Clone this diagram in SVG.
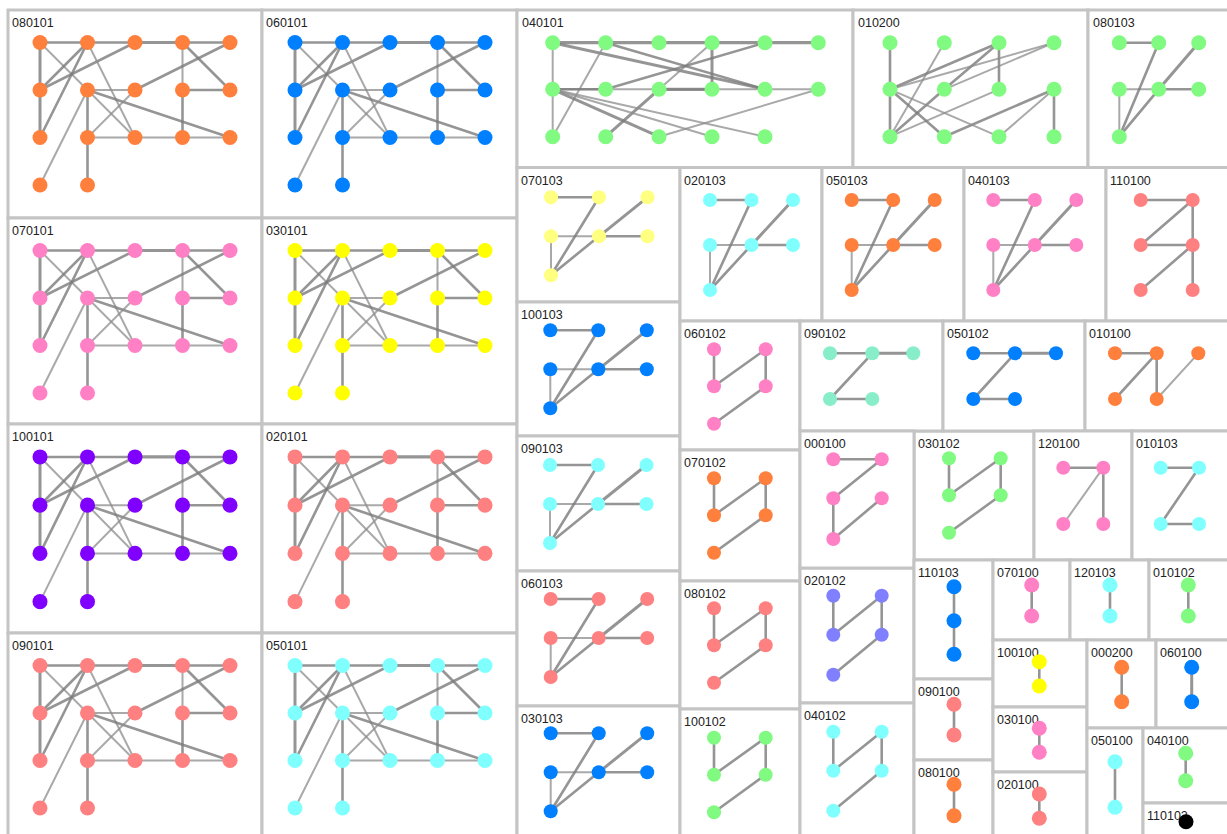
<svg xmlns="http://www.w3.org/2000/svg" xmlns:xlink="http://www.w3.org/1999/xlink" width="1227" height="834" viewBox="0 0 1227 834">
<style>
.pn{fill:#fff;stroke:#c4c4c4;stroke-width:3}
.lb{font-family:"Liberation Sans",Arial,sans-serif;font-size:12.5px;fill:#222}
.e{stroke:#7a7a7a;stroke-width:2.6;stroke-opacity:.8;stroke-linecap:round}
.f{stroke:#8c8c8c;stroke-width:2;stroke-opacity:.75;stroke-linecap:round}
.or{fill:#ff7f3c}.bl{fill:#0080ff}.gr{fill:#80fa80}.pk{fill:#ff80c4}.ye{fill:#ffff00}.ly{fill:#ffff80}
.pu{fill:#8000ff}.sa{fill:#ff8080}.cy{fill:#80ffff}.mi{fill:#88eeca}.la{fill:#8080ff}.bk{fill:#000}
</style>
<defs>
<g id="gA">
<g class="links">
<line class="e" x1="32" y1="32.5" x2="79.5" y2="32.5"/>
<line class="e" x1="79.5" y1="32.5" x2="127" y2="32.5"/>
<line class="e" x1="127" y1="32.5" x2="174.5" y2="32.5" style="stroke-width:3.2"/>
<line class="e" x1="174.5" y1="32.5" x2="222" y2="32.5"/>
<line class="e" x1="32" y1="32.5" x2="32" y2="80" style="stroke-width:3"/>
<line class="e" x1="32" y1="80" x2="32" y2="127.5" style="stroke-width:3"/>
<line class="f" x1="32" y1="32.5" x2="79.5" y2="80"/>
<line class="f" x1="79.5" y1="80" x2="127" y2="127.5"/>
<line class="e" x1="79.5" y1="32.5" x2="32" y2="80"/>
<line class="e" x1="79.5" y1="32.5" x2="32" y2="127.5"/>
<line class="e" x1="127" y1="32.5" x2="32" y2="80"/>
<line class="f" x1="79.5" y1="32.5" x2="127" y2="127.5"/>
<line class="f" x1="174.5" y1="32.5" x2="174.5" y2="80"/>
<line class="e" x1="174.5" y1="80" x2="174.5" y2="127.5"/>
<line class="e" x1="174.5" y1="32.5" x2="222" y2="80"/>
<line class="e" x1="222" y1="32.5" x2="127" y2="80"/>
<line class="e" x1="174.5" y1="80" x2="222" y2="80"/>
<line class="f" x1="79.5" y1="80" x2="127" y2="80"/>
<line class="e" x1="79.5" y1="80" x2="79.5" y2="127.5"/>
<line class="e" x1="79.5" y1="127.5" x2="79.5" y2="175"/>
<line class="f" x1="79.5" y1="80" x2="32" y2="175"/>
<line class="e" x1="79.5" y1="80" x2="222" y2="127.5"/>
<line class="f" x1="127" y1="80" x2="79.5" y2="127.5"/>
<line class="f" x1="79.5" y1="127.5" x2="127" y2="127.5"/>
<line class="f" x1="127" y1="127.5" x2="174.5" y2="127.5"/>
<line class="f" x1="174.5" y1="127.5" x2="222" y2="127.5"/>
</g>
<g class="nodes">
<circle cx="32" cy="32.5" r="7.5"/><circle cx="79.5" cy="32.5" r="7.5"/><circle cx="127" cy="32.5" r="7.5"/><circle cx="174.5" cy="32.5" r="7.5"/><circle cx="222" cy="32.5" r="7.5"/>
<circle cx="32" cy="80" r="7.5"/><circle cx="79.5" cy="80" r="7.5"/><circle cx="127" cy="80" r="7.5"/><circle cx="174.5" cy="80" r="7.5"/><circle cx="222" cy="80" r="7.5"/>
<circle cx="32" cy="127.5" r="7.5"/><circle cx="79.5" cy="127.5" r="7.5"/><circle cx="127" cy="127.5" r="7.5"/><circle cx="174.5" cy="127.5" r="7.5"/><circle cx="222" cy="127.5" r="7.5"/>
<circle cx="32" cy="175" r="7.5"/><circle cx="79.5" cy="175" r="7.5"/>
</g>
</g>
<g id="gZ1">
<g class="links">
<line class="e" x1="0" y1="0" x2="48" y2="0"/>
<line class="f" x1="0" y1="39" x2="48" y2="39"/>
<line class="e" x1="48" y1="39" x2="96.5" y2="39"/>
<line class="f" x1="0" y1="39" x2="0" y2="78"/>
<line class="e" x1="48" y1="0" x2="0" y2="78"/>
<line class="e" x1="0" y1="78" x2="48" y2="39"/>
<line class="e" x1="48" y1="39" x2="96.5" y2="0" style="stroke-width:3"/>
</g>
<g class="nodes">
<circle cx="0" cy="0" r="7"/><circle cx="48" cy="0" r="7"/><circle cx="96.5" cy="0" r="7"/>
<circle cx="0" cy="39" r="7"/><circle cx="48" cy="39" r="7"/><circle cx="96.5" cy="39" r="7"/>
<circle cx="0" cy="78" r="7"/>
</g>
</g>
<g id="gZ2">
<g class="links">
<line class="e" x1="0" y1="0" x2="41.5" y2="0"/>
<line class="f" x1="0" y1="45" x2="41.5" y2="45"/>
<line class="e" x1="41.5" y1="45" x2="83" y2="45"/>
<line class="f" x1="0" y1="45" x2="0" y2="90"/>
<line class="e" x1="41.5" y1="0" x2="0" y2="90"/>
<line class="e" x1="0" y1="90" x2="41.5" y2="45"/>
<line class="e" x1="41.5" y1="45" x2="83" y2="0" style="stroke-width:3"/>
</g>
<g class="nodes">
<circle cx="0" cy="0" r="7"/><circle cx="41.5" cy="0" r="7"/><circle cx="83" cy="0" r="7"/>
<circle cx="0" cy="45" r="7"/><circle cx="41.5" cy="45" r="7"/><circle cx="83" cy="45" r="7"/>
<circle cx="0" cy="90" r="7"/>
</g>
</g>
<g id="gS1">
<g class="links">
<line class="e" x1="0" y1="0" x2="0" y2="37"/>
<line class="e" x1="0" y1="37" x2="51.7" y2="0"/>
<line class="e" x1="51.7" y1="0" x2="51.7" y2="37"/>
<line class="e" x1="51.7" y1="37" x2="0" y2="74.5"/>
</g>
<g class="nodes">
<circle cx="0" cy="0" r="7"/><circle cx="51.7" cy="0" r="7"/><circle cx="0" cy="37" r="7"/><circle cx="51.7" cy="37" r="7"/><circle cx="0" cy="74.5" r="7"/>
</g>
</g>
<g id="gS2">
<g class="links">
<line class="e" x1="0" y1="0" x2="0" y2="39"/>
<line class="e" x1="0" y1="39" x2="48.4" y2="0"/>
<line class="e" x1="48.4" y1="0" x2="48.4" y2="39"/>
<line class="e" x1="48.4" y1="39" x2="0" y2="79"/>
</g>
<g class="nodes">
<circle cx="0" cy="0" r="7"/><circle cx="48.4" cy="0" r="7"/><circle cx="0" cy="39" r="7"/><circle cx="48.4" cy="39" r="7"/><circle cx="0" cy="79" r="7"/>
</g>
</g>
</defs>
<rect width="1227" height="834" fill="#fff"/>

<!-- big 17-node panels -->
<g id="p080101"><rect class="pn" x="8" y="10" width="254" height="208"/><text class="lb" x="12" y="27">080101</text><use xlink:href="#gA" class="or" transform="translate(8,10)"/></g>
<g id="p060101"><rect class="pn" x="262" y="10" width="255" height="208"/><text class="lb" x="266" y="27">060101</text><use xlink:href="#gA" class="bl" transform="translate(263,10)"/></g>
<g id="p070101"><rect class="pn" x="8" y="218" width="254" height="206"/><text class="lb" x="12" y="235">070101</text><use xlink:href="#gA" class="pk" transform="translate(8,218)"/></g>
<g id="p030101"><rect class="pn" x="262" y="218" width="255" height="206"/><text class="lb" x="266" y="235">030101</text><use xlink:href="#gA" class="ye" transform="translate(263,218)"/></g>
<g id="p100101"><rect class="pn" x="8" y="424" width="254" height="209"/><text class="lb" x="12" y="441">100101</text><use xlink:href="#gA" class="pu" transform="translate(8,424) scale(1,1.015)"/></g>
<g id="p020101"><rect class="pn" x="262" y="424" width="255" height="209"/><text class="lb" x="266" y="441">020101</text><use xlink:href="#gA" class="sa" transform="translate(263,424) scale(1,1.015)"/></g>
<g id="p090101"><rect class="pn" x="8" y="633" width="254" height="210"/><text class="lb" x="12" y="650">090101</text><use xlink:href="#gA" class="sa" transform="translate(8,633)"/></g>
<g id="p050101"><rect class="pn" x="262" y="633" width="255" height="210"/><text class="lb" x="266" y="650">050101</text><use xlink:href="#gA" class="cy" transform="translate(263,633)"/></g>

<!-- 040101 -->
<g id="p040101"><rect class="pn" x="517" y="10" width="336" height="157.5"/><text class="lb" x="522" y="27">040101</text>
<g class="links">
<line class="e" x1="552.7" y1="42.7" x2="818.3" y2="42.7" style="stroke-width:3.2"/>
<line class="f" x1="552.7" y1="42.7" x2="552.7" y2="136.7"/>
<line class="e" x1="552.7" y1="42.7" x2="765" y2="89.3" style="stroke-width:3"/>
<line class="e" x1="605.7" y1="42.7" x2="765" y2="89.3"/>
<line class="f" x1="605.7" y1="42.7" x2="552.7" y2="136.7"/>
<line class="e" x1="712" y1="42.7" x2="712" y2="89.3" style="stroke-width:3"/>
<line class="f" x1="712" y1="42.7" x2="659" y2="89.3"/>
<line class="e" x1="659" y1="89.3" x2="605.7" y2="136.7" style="stroke-width:3"/>
<line class="e" x1="765" y1="42.7" x2="605.7" y2="89.3"/>
<line class="f" x1="552.7" y1="89.3" x2="818.3" y2="89.3"/>
<line class="e" x1="659" y1="89.3" x2="712" y2="89.3" style="stroke-width:3.2"/>
<line class="e" x1="552.7" y1="89.3" x2="605.7" y2="89.3"/>
<line class="f" x1="818.3" y1="89.3" x2="659" y2="136.7"/>
<line class="e" x1="552.7" y1="89.3" x2="659" y2="136.7" style="stroke-width:3"/>
<line class="f" x1="552.7" y1="89.3" x2="712" y2="136.7"/>
<line class="f" x1="552.7" y1="89.3" x2="765" y2="136.7"/>
</g>
<g class="nodes gr">
<circle cx="552.7" cy="42.7" r="7.5"/><circle cx="605.7" cy="42.7" r="7.5"/><circle cx="659" cy="42.7" r="7.5"/><circle cx="712" cy="42.7" r="7.5"/><circle cx="765" cy="42.7" r="7.5"/><circle cx="818.3" cy="42.7" r="7.5"/>
<circle cx="552.7" cy="89.3" r="7.5"/><circle cx="605.7" cy="89.3" r="7.5"/><circle cx="659" cy="89.3" r="7.5"/><circle cx="712" cy="89.3" r="7.5"/><circle cx="765" cy="89.3" r="7.5"/><circle cx="818.3" cy="89.3" r="7.5"/>
<circle cx="552.7" cy="136.7" r="7.5"/><circle cx="605.7" cy="136.7" r="7.5"/><circle cx="659" cy="136.7" r="7.5"/><circle cx="712" cy="136.7" r="7.5"/><circle cx="765" cy="136.7" r="7.5"/>
</g></g>

<!-- 010200 -->
<g id="p010200"><rect class="pn" x="853" y="10" width="235" height="157.5"/><text class="lb" x="858" y="27">010200</text>
<g class="links">
<line class="e" x1="890" y1="42.7" x2="890" y2="89.3"/>
<line class="e" x1="890" y1="89.3" x2="890" y2="136.7"/>
<line class="e" x1="999" y1="42.7" x2="999" y2="89.3"/>
<line class="e" x1="1054" y1="89.3" x2="1054" y2="136.7"/>
<line class="f" x1="944.3" y1="42.7" x2="890" y2="136.7"/>
<line class="e" x1="999" y1="42.7" x2="890" y2="89.3"/>
<line class="e" x1="999" y1="42.7" x2="944.3" y2="89.3"/>
<line class="f" x1="1054" y1="42.7" x2="890" y2="89.3"/>
<line class="f" x1="1054" y1="42.7" x2="944.3" y2="89.3"/>
<line class="e" x1="944.3" y1="89.3" x2="890" y2="136.7"/>
<line class="f" x1="999" y1="89.3" x2="890" y2="136.7"/>
<line class="e" x1="1054" y1="89.3" x2="944.3" y2="136.7"/>
<line class="f" x1="1054" y1="89.3" x2="999" y2="136.7"/>
<line class="e" x1="890" y1="89.3" x2="944.3" y2="136.7"/>
<line class="f" x1="890" y1="89.3" x2="999" y2="136.7"/>
</g>
<g class="nodes gr">
<circle cx="890" cy="42.7" r="7.5"/><circle cx="944.3" cy="42.7" r="7.5"/><circle cx="999" cy="42.7" r="7.5"/><circle cx="1054" cy="42.7" r="7.5"/>
<circle cx="890" cy="89.3" r="7.5"/><circle cx="944.3" cy="89.3" r="7.5"/><circle cx="999" cy="89.3" r="7.5"/><circle cx="1054" cy="89.3" r="7.5"/>
<circle cx="890" cy="136.7" r="7.5"/><circle cx="944.3" cy="136.7" r="7.5"/><circle cx="999" cy="136.7" r="7.5"/><circle cx="1054" cy="136.7" r="7.5"/>
</g></g>

<!-- 080103 -->
<g id="p080103"><rect class="pn" x="1088" y="10" width="145" height="157.5"/><text class="lb" x="1093" y="27">080103</text>
<g class="links">
<line class="e" x1="1119.3" y1="42.7" x2="1158.7" y2="42.7"/>
<line class="f" x1="1119.3" y1="89.3" x2="1158.7" y2="89.3"/>
<line class="e" x1="1158.7" y1="89.3" x2="1198.7" y2="89.3"/>
<line class="f" x1="1119.3" y1="89.3" x2="1119.3" y2="136.7"/>
<line class="e" x1="1158.7" y1="42.7" x2="1119.3" y2="136.7"/>
<line class="e" x1="1119.3" y1="136.7" x2="1158.7" y2="89.3"/>
<line class="e" x1="1158.7" y1="89.3" x2="1198.7" y2="42.7" style="stroke-width:3"/>
</g>
<g class="nodes gr">
<circle cx="1119.3" cy="42.7" r="7.5"/><circle cx="1158.7" cy="42.7" r="7.5"/><circle cx="1198.7" cy="42.7" r="7.5"/>
<circle cx="1119.3" cy="89.3" r="7.5"/><circle cx="1158.7" cy="89.3" r="7.5"/><circle cx="1198.7" cy="89.3" r="7.5"/>
<circle cx="1119.3" cy="136.7" r="7.5"/>
</g></g>

<!-- Z panels -->
<g id="p070103"><rect class="pn" x="517" y="167.5" width="163" height="134.5"/><text class="lb" x="521" y="185">070103</text><use xlink:href="#gZ1" class="ly" transform="translate(551,197.3)"/></g>
<g id="p100103"><rect class="pn" x="517" y="302" width="163" height="134"/><text class="lb" x="521" y="319">100103</text><use xlink:href="#gZ1" class="bl" transform="translate(550.3,330.3)"/></g>
<g id="p090103"><rect class="pn" x="517" y="436" width="163" height="135"/><text class="lb" x="521" y="453">090103</text><use xlink:href="#gZ1" class="cy" transform="translate(550,465)"/></g>
<g id="p060103"><rect class="pn" x="517" y="571" width="163" height="135"/><text class="lb" x="521" y="588">060103</text><use xlink:href="#gZ1" class="sa" transform="translate(550.7,599)"/></g>
<g id="p030103"><rect class="pn" x="517" y="706" width="163" height="140"/><text class="lb" x="521" y="723">030103</text><use xlink:href="#gZ1" class="bl" transform="translate(550.7,733.3)"/></g>
<g id="p020103"><rect class="pn" x="680" y="167.5" width="142" height="153.5"/><text class="lb" x="684" y="185">020103</text><use xlink:href="#gZ2" class="cy" transform="translate(710,200)"/></g>
<g id="p050103"><rect class="pn" x="822" y="167.5" width="142" height="153.5"/><text class="lb" x="826" y="185">050103</text><use xlink:href="#gZ2" class="or" transform="translate(851.7,200)"/></g>
<g id="p040103"><rect class="pn" x="964" y="167.5" width="142" height="153.5"/><text class="lb" x="968" y="185">040103</text><use xlink:href="#gZ2" class="pk" transform="translate(993.3,200)"/></g>

<!-- 110100 -->
<g id="p110100"><rect class="pn" x="1106" y="167.5" width="127" height="153.5"/><text class="lb" x="1110" y="185">110100</text>
<g class="links">
<line class="e" x1="1140.7" y1="200" x2="1192.7" y2="200"/>
<line class="e" x1="1192.7" y1="200" x2="1140.7" y2="245"/>
<line class="e" x1="1192.7" y1="200" x2="1192.7" y2="245"/>
<line class="e" x1="1140.7" y1="245" x2="1192.7" y2="245"/>
<line class="e" x1="1192.7" y1="245" x2="1140.7" y2="290"/>
<line class="e" x1="1192.7" y1="245" x2="1192.7" y2="290"/>
</g>
<g class="nodes sa">
<circle cx="1140.7" cy="200" r="7"/><circle cx="1192.7" cy="200" r="7"/><circle cx="1140.7" cy="245" r="7"/><circle cx="1192.7" cy="245" r="7"/><circle cx="1140.7" cy="290" r="7"/><circle cx="1192.7" cy="290" r="7"/>
</g></g>

<!-- S panels -->
<g id="p060102"><rect class="pn" x="680" y="321" width="120" height="129"/><text class="lb" x="684" y="338">060102</text><use xlink:href="#gS1" class="pk" transform="translate(714,349.3)"/></g>
<g id="p070102"><rect class="pn" x="680" y="450" width="120" height="131"/><text class="lb" x="684" y="467">070102</text><use xlink:href="#gS1" class="or" transform="translate(714,478.3)"/></g>
<g id="p080102"><rect class="pn" x="680" y="581" width="120" height="128"/><text class="lb" x="684" y="598">080102</text><use xlink:href="#gS1" class="sa" transform="translate(714,608.3)"/></g>
<g id="p100102"><rect class="pn" x="680" y="709" width="120" height="140"/><text class="lb" x="684" y="726">100102</text><use xlink:href="#gS1" class="gr" transform="translate(714,737.7)"/></g>
<g id="p030102"><rect class="pn" x="914" y="431" width="120" height="129"/><text class="lb" x="918" y="448">030102</text><use xlink:href="#gS1" class="gr" transform="translate(949,458.3)"/></g>
<g id="p020102"><rect class="pn" x="800" y="568" width="114" height="135"/><text class="lb" x="804" y="585">020102</text><use xlink:href="#gS2" class="la" transform="translate(833.3,595.7)"/></g>
<g id="p040102"><rect class="pn" x="800" y="703" width="114" height="146"/><text class="lb" x="804" y="720">040102</text><use xlink:href="#gS2" class="cy" transform="translate(833.3,731.7)"/></g>

<!-- 090102 -->
<g id="p090102"><rect class="pn" x="800" y="321" width="143" height="110"/><text class="lb" x="804" y="338">090102</text>
<g class="links">
<line class="e" x1="830" y1="353.3" x2="872.3" y2="353.3"/>
<line class="e" x1="872.3" y1="353.3" x2="913.3" y2="353.3" style="stroke-width:3"/>
<line class="e" x1="872.3" y1="353.3" x2="830" y2="399"/>
<line class="e" x1="830" y1="399" x2="872.3" y2="399"/>
</g>
<g class="nodes mi">
<circle cx="830" cy="353.3" r="7"/><circle cx="872.3" cy="353.3" r="7"/><circle cx="913.3" cy="353.3" r="7"/><circle cx="830" cy="399" r="7"/><circle cx="872.3" cy="399" r="7"/>
</g></g>

<!-- 050102 -->
<g id="p050102"><rect class="pn" x="943" y="321" width="142" height="110"/><text class="lb" x="947" y="338">050102</text>
<g class="links">
<line class="e" x1="973.3" y1="353.3" x2="1015" y2="353.3"/>
<line class="e" x1="1015" y1="353.3" x2="1056" y2="353.3" style="stroke-width:3"/>
<line class="e" x1="1015" y1="353.3" x2="973.3" y2="399"/>
<line class="e" x1="973.3" y1="399" x2="1015" y2="399"/>
</g>
<g class="nodes bl">
<circle cx="973.3" cy="353.3" r="7"/><circle cx="1015" cy="353.3" r="7"/><circle cx="1056" cy="353.3" r="7"/><circle cx="973.3" cy="399" r="7"/><circle cx="1015" cy="399" r="7"/>
</g></g>

<!-- 010100 -->
<g id="p010100"><rect class="pn" x="1085" y="321" width="148" height="110"/><text class="lb" x="1089" y="338">010100</text>
<g class="links">
<line class="e" x1="1115" y1="353.3" x2="1156.7" y2="353.3"/>
<line class="e" x1="1156.7" y1="353.3" x2="1115" y2="399"/>
<line class="e" x1="1156.7" y1="353.3" x2="1156.7" y2="399"/>
<line class="f" x1="1156.7" y1="399" x2="1198.3" y2="353.3"/>
</g>
<g class="nodes or">
<circle cx="1115" cy="353.3" r="7"/><circle cx="1156.7" cy="353.3" r="7"/><circle cx="1198.3" cy="353.3" r="7"/><circle cx="1115" cy="399" r="7"/><circle cx="1156.7" cy="399" r="7"/>
</g></g>

<!-- 000100 -->
<g id="p000100"><rect class="pn" x="800" y="431" width="114" height="137"/><text class="lb" x="804" y="448">000100</text>
<g class="links">
<line class="e" x1="833.3" y1="459.3" x2="881.7" y2="459.3"/>
<line class="e" x1="881.7" y1="459.3" x2="833.3" y2="498.3"/>
<line class="e" x1="833.3" y1="498.3" x2="833.3" y2="539"/>
<line class="e" x1="833.3" y1="539" x2="881.7" y2="498.3"/>
</g>
<g class="nodes pk">
<circle cx="833.3" cy="459.3" r="7"/><circle cx="881.7" cy="459.3" r="7"/><circle cx="833.3" cy="498.3" r="7"/><circle cx="881.7" cy="498.3" r="7"/><circle cx="833.3" cy="539" r="7"/>
</g></g>

<!-- 120100 -->
<g id="p120100"><rect class="pn" x="1034" y="431" width="98" height="129"/><text class="lb" x="1038" y="448">120100</text>
<g class="links">
<line class="e" x1="1063.3" y1="467.7" x2="1103.3" y2="467.7"/>
<line class="f" x1="1103.3" y1="467.7" x2="1063.3" y2="524"/>
<line class="e" x1="1103.3" y1="467.7" x2="1103.3" y2="524"/>
</g>
<g class="nodes pk">
<circle cx="1063.3" cy="467.7" r="7"/><circle cx="1103.3" cy="467.7" r="7"/><circle cx="1063.3" cy="524" r="7"/><circle cx="1103.3" cy="524" r="7"/>
</g></g>

<!-- 010103 -->
<g id="p010103"><rect class="pn" x="1132" y="431" width="101" height="129"/><text class="lb" x="1136" y="448">010103</text>
<g class="links">
<line class="e" x1="1160.7" y1="467.7" x2="1199" y2="467.7"/>
<line class="e" x1="1199" y1="467.7" x2="1160.7" y2="524"/>
<line class="e" x1="1160.7" y1="524" x2="1199" y2="524"/>
</g>
<g class="nodes cy">
<circle cx="1160.7" cy="467.7" r="7"/><circle cx="1199" cy="467.7" r="7"/><circle cx="1160.7" cy="524" r="7"/><circle cx="1199" cy="524" r="7"/>
</g></g>

<!-- 110103 -->
<g id="p110103"><rect class="pn" x="914" y="560" width="79" height="119"/><text class="lb" x="918" y="577">110103</text>
<g class="links"><line class="e" x1="954" y1="586.7" x2="954" y2="654.3"/></g>
<g class="nodes bl"><circle cx="954" cy="586.7" r="7.5"/><circle cx="954" cy="620.7" r="7.5"/><circle cx="954" cy="654.3" r="7.5"/></g></g>

<!-- two-node panels -->
<g id="p090100"><rect class="pn" x="914" y="679" width="79" height="81"/><text class="lb" x="918" y="696">090100</text>
<g class="links"><line class="e" x1="954" y1="704.3" x2="954" y2="735"/></g>
<g class="nodes sa"><circle cx="954" cy="704.3" r="7.5"/><circle cx="954" cy="735" r="7.5"/></g></g>
<g id="p080100"><rect class="pn" x="914" y="760" width="79" height="89"/><text class="lb" x="918" y="777">080100</text>
<g class="links"><line class="e" x1="954" y1="784.3" x2="954" y2="815.7"/></g>
<g class="nodes or"><circle cx="954" cy="784.3" r="7.5"/><circle cx="954" cy="815.7" r="7.5"/></g></g>
<g id="p070100"><rect class="pn" x="993" y="560" width="77" height="80"/><text class="lb" x="997" y="577">070100</text>
<g class="links"><line class="e" x1="1031.7" y1="585" x2="1031.7" y2="616"/></g>
<g class="nodes pk"><circle cx="1031.7" cy="585" r="7.5"/><circle cx="1031.7" cy="616" r="7.5"/></g></g>
<g id="p120103"><rect class="pn" x="1070" y="560" width="79" height="80"/><text class="lb" x="1074" y="577">120103</text>
<g class="links"><line class="e" x1="1110" y1="585" x2="1110" y2="616"/></g>
<g class="nodes cy"><circle cx="1110" cy="585" r="7.5"/><circle cx="1110" cy="616" r="7.5"/></g></g>
<g id="p010102"><rect class="pn" x="1149" y="560" width="84" height="80"/><text class="lb" x="1153" y="577">010102</text>
<g class="links"><line class="e" x1="1188.3" y1="585" x2="1188.3" y2="616"/></g>
<g class="nodes gr"><circle cx="1188.3" cy="585" r="7.5"/><circle cx="1188.3" cy="616" r="7.5"/></g></g>
<g id="p100100"><rect class="pn" x="993" y="640" width="94" height="67"/><text class="lb" x="997" y="657">100100</text>
<g class="links"><line class="e" x1="1039.3" y1="661.7" x2="1039.3" y2="686"/></g>
<g class="nodes ye"><circle cx="1039.3" cy="661.7" r="7.5"/><circle cx="1039.3" cy="686" r="7.5"/></g></g>
<g id="p030100"><rect class="pn" x="993" y="707" width="94" height="65"/><text class="lb" x="997" y="724">030100</text>
<g class="links"><line class="e" x1="1039.3" y1="728.3" x2="1039.3" y2="752.3"/></g>
<g class="nodes pk"><circle cx="1039.3" cy="728.3" r="7.5"/><circle cx="1039.3" cy="752.3" r="7.5"/></g></g>
<g id="p020100"><rect class="pn" x="993" y="772" width="94" height="77"/><text class="lb" x="997" y="789">020100</text>
<g class="links"><line class="e" x1="1039.3" y1="794" x2="1039.3" y2="818.3"/></g>
<g class="nodes sa"><circle cx="1039.3" cy="794" r="7.5"/><circle cx="1039.3" cy="818.3" r="7.5"/></g></g>
<g id="p000200"><rect class="pn" x="1087" y="640" width="69" height="88"/><text class="lb" x="1091" y="657">000200</text>
<g class="links"><line class="e" x1="1121.7" y1="667.3" x2="1121.7" y2="701.7"/></g>
<g class="nodes or"><circle cx="1121.7" cy="667.3" r="7.5"/><circle cx="1121.7" cy="701.7" r="7.5"/></g></g>
<g id="p060100"><rect class="pn" x="1156" y="640" width="77" height="88"/><text class="lb" x="1160" y="657">060100</text>
<g class="links"><line class="e" x1="1191.7" y1="667.3" x2="1191.7" y2="701.7" style="stroke-width:3"/></g>
<g class="nodes bl"><circle cx="1191.7" cy="667.3" r="7.5"/><circle cx="1191.7" cy="701.7" r="7.5"/></g></g>
<g id="p050100"><rect class="pn" x="1087" y="728" width="56" height="121"/><text class="lb" x="1091" y="745">050100</text>
<g class="links"><line class="e" x1="1115" y1="761.7" x2="1115" y2="807.3"/></g>
<g class="nodes cy"><circle cx="1115" cy="761.7" r="7.5"/><circle cx="1115" cy="807.3" r="7.5"/></g></g>
<g id="p040100"><rect class="pn" x="1143" y="728" width="90" height="75"/><text class="lb" x="1147" y="745">040100</text>
<g class="links"><line class="e" x1="1185.7" y1="753.3" x2="1185.7" y2="780.7"/></g>
<g class="nodes gr"><circle cx="1185.7" cy="753.3" r="7.5"/><circle cx="1185.7" cy="780.7" r="7.5"/></g></g>
<g id="p110102"><rect class="pn" x="1143" y="803" width="90" height="46"/><text class="lb" x="1147" y="820">110102</text>
<g class="nodes bk"><circle cx="1186" cy="821.7" r="7.5"/></g></g>
</svg>
